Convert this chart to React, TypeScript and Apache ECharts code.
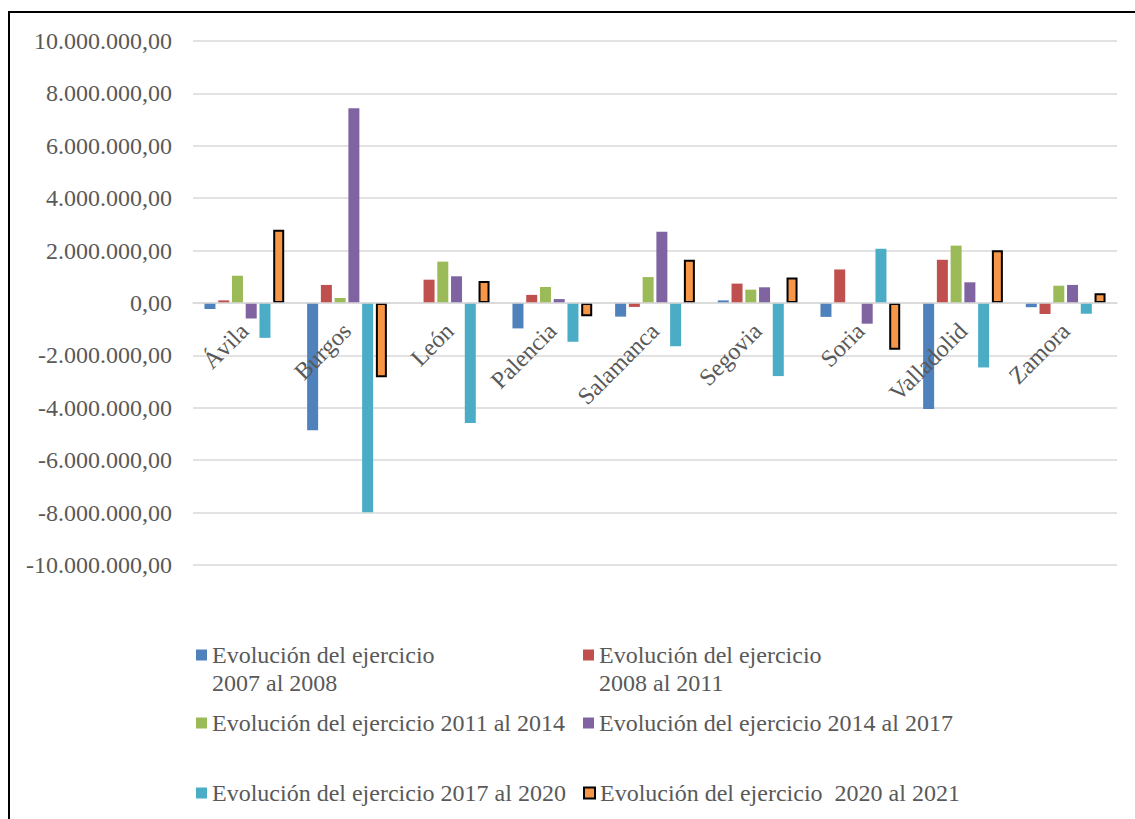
import React, { useEffect, useRef } from "react";
import * as echarts from "echarts";

const categories = ["Ávila", "Burgos", "León", "Palencia", "Salamanca", "Segovia", "Soria", "Valladolid", "Zamora"];

const seriesNames = [
  "Evolución del ejercicio\n2007 al 2008",
  "Evolución del ejercicio\n2008 al 2011",
  "Evolución del ejercicio 2011 al 2014",
  "Evolución del ejercicio 2014 al 2017",
  "Evolución del ejercicio 2017 al 2020",
  "Evolución del ejercicio  2020 al 2021",
];

const evol2007_2008 = [-230000, -4860000, 0, -970000, -520000, 100000, -530000, -4050000, -160000];
const evol2008_2011 = [100000, 690000, 890000, 310000, -150000, 740000, 1280000, 1650000, -420000];
const evol2011_2014 = [1040000, 190000, 1580000, 610000, 990000, 510000, 0, 2190000, 660000];
const evol2014_2017 = [-590000, 7430000, 1020000, 150000, 2720000, 600000, -790000, 790000, 690000];
const evol2017_2020 = [-1330000, -7990000, -4580000, -1480000, -1650000, -2790000, 2070000, -2460000, -410000];
const evol2020_2021 = [2800000, -2830000, 840000, -510000, 1650000, 970000, -1780000, 2010000, 370000];

const yTicks = { min: -10000000, max: 10000000, interval: 2000000 };

const seriesValues = [evol2007_2008, evol2008_2011, evol2011_2014, evol2014_2017, evol2017_2020, evol2020_2021];
const colors = ["#4F81BD", "#C0504D", "#9BBB59", "#8064A2", "#4BACC6", "#F79646"];

const FONT = "Liberation Serif";
const TEXT = "#595959";

function fmt(v: number): string {
  const neg = v < 0;
  const s = Math.abs(Math.round(v)).toString().replace(/\B(?=(\d{3})+(?!\d))/g, ".");
  return (neg ? "-" : "") + s + ",00";
}

const TOP_ICON = "path://M0,0L11,0L11,11L0,11Z M0,39L0.01,39L0.01,39.01Z";

const legendPos = [
  { left: 196, top: 641, wrap: true },
  { left: 583, top: 641, wrap: true },
  { left: 196, top: 709, wrap: false },
  { left: 583, top: 709, wrap: false },
  { left: 196, top: 779, wrap: false },
  { left: 583, top: 779, wrap: false },
];

export default function App() {
  const ref = useRef<HTMLDivElement>(null);
  useEffect(() => {
    document.body.style.overflow = "hidden";
    const chart = echarts.init(ref.current!, null, { renderer: "svg" });
    const gridTop = 41;
    const gridBottom = 254;
    const plotH = 819 - gridTop - gridBottom;
    const zeroFromBottom = (plotH * (0 - yTicks.min)) / (yTicks.max - yTicks.min);
    const option: any = {
      animation: false,
      backgroundColor: "#ffffff",
      grid: { left: 193, right: 18, top: gridTop, bottom: gridBottom, containLabel: false },
      xAxis: {
        type: "category",
        data: categories,
        position: "bottom",
        offset: -zeroFromBottom,
        z: 5,
        axisTick: { show: false },
        axisLine: { onZero: false, lineStyle: { color: "#d9d9d9", width: 1.5 } },
        axisLabel: {
          rotate: 45,
          margin: 24,
          interval: 0,
          color: TEXT,
          fontSize: 24,
          fontFamily: FONT,
        },
      },
      yAxis: {
        type: "value",
        min: yTicks.min,
        max: yTicks.max,
        interval: yTicks.interval,
        axisLine: { show: false },
        axisTick: { show: false },
        splitLine: { lineStyle: { color: "#d9d9d9", width: 1.5 } },
        axisLabel: {
          margin: 21,
          color: TEXT,
          fontSize: 24,
          fontFamily: FONT,
          formatter: (v: number) => fmt(v),
        },
      },
      legend: legendPos.map((p, i) => ({
        data: [{ name: seriesNames[i], icon: p.wrap ? TOP_ICON : "rect" }],
        left: p.left,
        top: p.top,
        padding: 0,
        itemWidth: 11,
        itemHeight: p.wrap ? 39 : 11,
        itemGap: 0,
        selectedMode: false,
        textStyle: {
          color: TEXT,
          fontSize: 24,
          fontFamily: FONT,
          lineHeight: 28,
        },
      })),
      series: seriesValues.map((vals, i) => ({
        name: seriesNames[i],
        type: "bar",
        data: vals,
        barWidth: 11,
        barGap: "25%",
        itemStyle:
          i === 5
            ? { color: colors[i], borderColor: "#000000", borderWidth: 2 }
            : { color: colors[i] },
      })),
    };
    chart.setOption(option);
    return () => chart.dispose();
  }, []);
  return (
    <div>
      <div ref={ref} style={{ position: "fixed", left: 0, top: 0, width: 1135, height: 819 }} />
      <div
        style={{
          position: "fixed",
          left: 8,
          top: 11,
          width: 1135 - 8,
          height: 819 - 11,
          borderLeft: "2.5px solid #000",
          borderTop: "2.5px solid #000",
          boxSizing: "border-box",
          pointerEvents: "none",
        }}
      />
    </div>
  );
}
